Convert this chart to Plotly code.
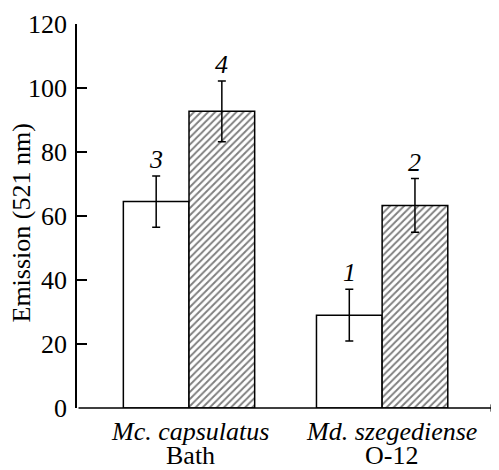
import plotly.graph_objects as go

category_species = ["Mc. capsulatus", "Md. szegediense"]
category_strains = ["Bath", "O-12"]
open_values = [64.5, 29.0]
open_errors = [8.0, 8.1]
open_labels = ["3", "1"]
hatched_values = [92.7, 63.3]
hatched_errors = [9.5, 8.4]
hatched_labels = ["4", "2"]
y_ticks = [0, 20, 40, 60, 80, 100, 120]

FONT = "Liberation Serif"
FS = 26
bar_w = 0.34
idx = list(range(len(category_species)))
x_open = [i - bar_w / 2 for i in idx]
x_hatch = [i + bar_w / 2 for i in idx]

fig = go.Figure()
fig.add_trace(go.Bar(
    x=x_open, y=open_values, width=bar_w,
    marker=dict(color="white", line=dict(color="black", width=1.5)),
    error_y=dict(type="data", array=open_errors, color="black", thickness=1.5, width=4),
    showlegend=False,
))
fig.add_trace(go.Bar(
    x=x_hatch, y=hatched_values, width=bar_w,
    marker=dict(color="white", line=dict(color="black", width=1.5),
                pattern=dict(shape="/", fgcolor="black", bgcolor="white", size=5, solidity=0.38)),
    error_y=dict(type="data", array=hatched_errors, color="black", thickness=1.5, width=4),
    showlegend=False,
))

annotations = []
for xs, vals, errs, labs in [(x_open, open_values, open_errors, open_labels),
                             (x_hatch, hatched_values, hatched_errors, hatched_labels)]:
    for x, v, e, t in zip(xs, vals, errs, labs):
        annotations.append(dict(x=x, y=v + e, xref="x", yref="y", text=f"<i>{t}</i>",
                                showarrow=False, yanchor="bottom", yshift=0,
                                font=dict(family=FONT, size=FS, color="black")))
# category labels (two lines, tight spacing)
for i, (sp, st) in enumerate(zip(category_species, category_strains)):
    xs = 1 if i == 0 else 9
    annotations.append(dict(x=i, y=0, xref="x", yref="paper", text=f"<i>{sp}</i>",
                            showarrow=False, yanchor="middle", yshift=-23, xshift=xs,
                            font=dict(family=FONT, size=FS, color="black")))
    annotations.append(dict(x=i, y=0, xref="x", yref="paper", text=st,
                            showarrow=False, yanchor="middle", yshift=-47, xshift=xs,
                            font=dict(family=FONT, size=FS, color="black")))
# x axis with arrow
annotations.append(dict(x=1.60, y=0, ax=-0.58, ay=0, xref="x", yref="y", axref="x", ayref="y",
                        text="", showarrow=True, arrowhead=2, arrowsize=1, arrowwidth=1.5,
                        arrowcolor="black", standoff=0, startstandoff=0))
# y axis title
annotations.append(dict(x=-0.133, y=0.4805, xref="paper", yref="paper", text="Emission (521 nm)",
                        textangle=-90, showarrow=False, xanchor="center", yanchor="middle",
                        borderpad=0, font=dict(family=FONT, size=FS, color="black")))

# page body adds an 8px margin, so the figure is sized to fit the 499x470 window
fig.update_layout(
    width=491, height=462,
    margin=dict(l=69, r=1, t=16, b=62),
    plot_bgcolor="white", paper_bgcolor="white",
    barmode="overlay",
    annotations=annotations,
    font=dict(family=FONT, size=FS, color="black"),
)
fig.update_xaxes(range=[-0.58, 1.60], showticklabels=False, showline=False, automargin=False,
                 showgrid=False, zeroline=False, ticks="")
fig.update_yaxes(range=[0, 120], tickvals=y_ticks, showline=True, linecolor="black", linewidth=1.5,
                 ticks="inside", ticklen=10, tickwidth=1.5, tickcolor="black", showgrid=False,
                 zeroline=False, tickfont=dict(size=FS), automargin=False, ticklabelstandoff=3)

fig.write_html("out.html")
